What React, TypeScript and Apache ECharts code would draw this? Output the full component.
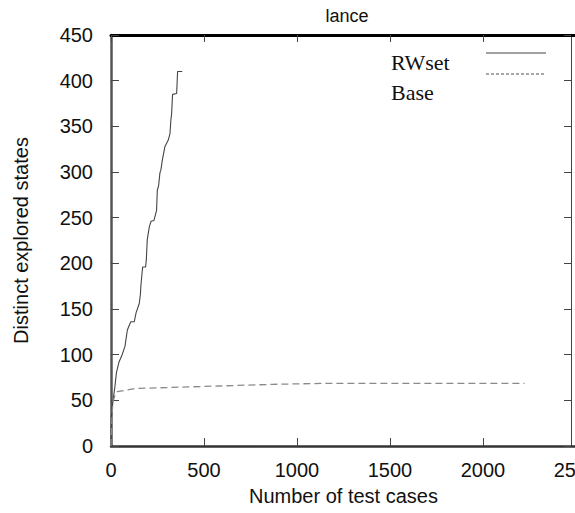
import React, { useEffect, useRef } from "react";
import * as echarts from "echarts";

const title = "lance";
const xName = "Number of test cases";
const yName = "Distinct explored states";
const seriesNames = ["RWset", "Base"];

// [test cases, distinct explored states]
const rwsetData: number[][] = [
  [0, 0], [0, 10], [2, 32], [11, 50], [21, 65], [29, 80], [43, 92], [60, 100],
  [75, 109], [88, 127], [100, 133], [107, 136], [125, 136], [135, 146], [152, 156],
  [158, 166], [161, 176], [165, 185], [170, 196], [186, 196], [190, 204], [195, 226],
  [206, 240], [215, 246], [231, 247], [245, 258], [249, 280], [256, 285], [263, 299],
  [268, 302], [276, 313], [290, 328], [308, 335], [317, 342], [322, 357], [326, 364],
  [331, 385], [353, 386], [358, 410], [383, 410],
];

const baseData: number[][] = [
  [0, 0], [5, 30], [10, 48], [16, 52], [25, 58], [34, 59.5], [133, 63], [300, 64],
  [580, 65.7], [866, 67.5], [1153, 68.6], [2223, 68.6],
];

const xMin = 0, xMax = 2500, xStep = 500;
const yMin = 0, yMax = 450, yStep = 50;

export default function App() {
  const ref = useRef<HTMLDivElement>(null);
  useEffect(() => {
    document.body.style.margin = "0";
    if (!ref.current) return;
    const chart = echarts.init(ref.current, undefined, { renderer: "svg" });
    const sans = "Liberation Sans";
    const serif = "Liberation Serif";
    const plain = (v: number) => String(v);
    chart.setOption({
      animation: false,
      backgroundColor: "#ffffff",
      title: {
        text: title,
        left: 342,
        top: 2,
        textAlign: "center",
        textStyle: { fontFamily: sans, fontSize: 18, fontWeight: "normal", color: "#111" },
      },
      grid: [
        { left: 111, right: -1, top: 35, bottom: 67, containLabel: false, outerBoundsMode: "none" },
        { left: 111, right: 4, top: 35, bottom: 67, containLabel: false, outerBoundsMode: "none" },
      ],
      xAxis: [
        {
          type: "value",
          gridIndex: 0,
          position: "bottom",
          min: xMin, max: xMax, interval: xStep,
          name: xName,
          nameLocation: "middle",
          nameGap: 40,
          nameTextStyle: { fontFamily: sans, fontSize: 20, color: "#111" },
          axisLine: { show: true, onZero: false, lineStyle: { color: "#333", width: 2.5 } },
          axisTick: { show: true, inside: true, length: 8, lineStyle: { color: "#444", width: 1 } },
          axisLabel: { margin: 14, fontFamily: sans, fontSize: 20, color: "#111", formatter: plain },
          splitLine: { show: false },
        },
        {
          type: "value",
          gridIndex: 0,
          position: "top",
          min: xMin, max: xMax, interval: xStep,
          axisLine: { show: true, onZero: false, lineStyle: { color: "#000", width: 3 } },
          axisTick: { show: true, inside: true, length: 7, lineStyle: { color: "#444", width: 1 } },
          axisLabel: { show: false },
          splitLine: { show: false },
        },
        {
          type: "value",
          gridIndex: 1,
          position: "bottom",
          min: xMin, max: xMax,
          axisLine: { show: false, onZero: false },
          axisTick: { show: false },
          axisLabel: { show: false },
          splitLine: { show: false },
        },
      ],
      yAxis: [
        {
          type: "value",
          gridIndex: 0,
          position: "left",
          min: yMin, max: yMax, interval: yStep,
          name: yName,
          nameLocation: "middle",
          nameGap: 80,
          nameTextStyle: { fontFamily: sans, fontSize: 20, color: "#111" },
          axisLine: { show: true, onZero: false, lineStyle: { color: "#555", width: 2.5 } },
          axisTick: { show: true, inside: true, length: 8, lineStyle: { color: "#444", width: 1 } },
          axisLabel: { margin: 18, fontFamily: sans, fontSize: 20, color: "#111", formatter: plain },
          splitLine: { show: false },
        },
        {
          type: "value",
          gridIndex: 1,
          position: "right",
          min: yMin, max: yMax, interval: yStep,
          axisLine: { show: true, onZero: false, lineStyle: { color: "#444", width: 1 } },
          axisTick: { show: true, inside: true, length: 7, lineStyle: { color: "#444", width: 1 } },
          axisLabel: { show: false },
          splitLine: { show: false },
        },
      ],
      series: [
        {
          name: seriesNames[0],
          type: "line",
          data: rwsetData,
          showSymbol: false,
          symbol: "none",
          lineStyle: { color: "#444", width: 1.1 },
          xAxisIndex: 0,
          yAxisIndex: 0,
        },
        {
          name: seriesNames[1],
          type: "line",
          data: baseData,
          showSymbol: false,
          symbol: "none",
          lineStyle: { color: "#8a8a8a", width: 1.3, type: [7, 4] },
          xAxisIndex: 0,
          yAxisIndex: 0,
        },
      ],
      graphic: [
        {
          type: "text",
          left: 391,
          top: 51,
          style: { text: seriesNames[0], font: `22px "${serif}"`, fill: "#111" },
        },
        {
          type: "text",
          left: 391,
          top: 81,
          style: { text: seriesNames[1], font: `22px "${serif}"`, fill: "#111" },
        },
        {
          type: "line",
          shape: { x1: 486, y1: 53, x2: 546, y2: 53 },
          style: { stroke: "#444", lineWidth: 1.1 },
        },
        {
          type: "line",
          shape: { x1: 486, y1: 74, x2: 546, y2: 74 },
          style: { stroke: "#8a8a8a", lineWidth: 1.3, lineDash: [3, 2] },
        },
      ],
    });
    return () => chart.dispose();
  }, []);
  return <div ref={ref} style={{ width: 575, height: 513 }} />;
}
